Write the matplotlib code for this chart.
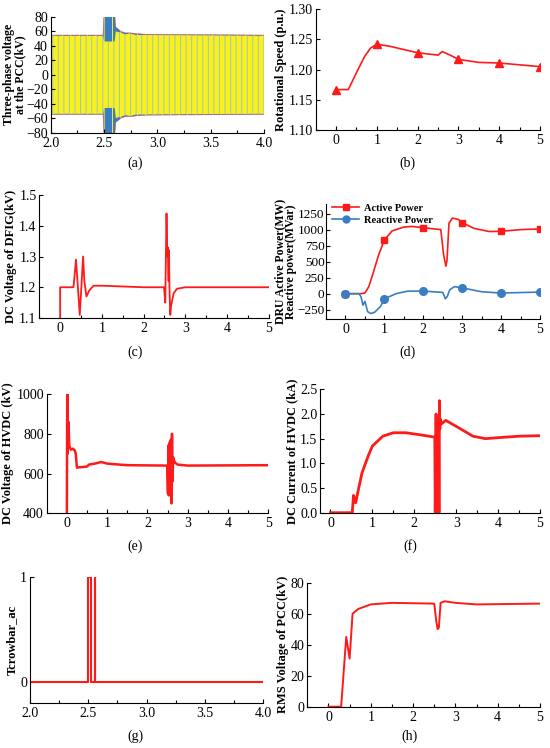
import matplotlib
matplotlib.use('Agg')
import matplotlib.pyplot as plt
from matplotlib.ticker import AutoMinorLocator

plt.rcParams['font.family'] = ['Liberation Serif', 'DejaVu Serif']
plt.rcParams['font.size'] = 10
plt.rcParams['hatch.linewidth'] = 0.7

RED = '#FF1A1A'
BLUE = '#3A7DC2'
YELLOW = '#F7F21C'

# ── (a) three-phase PCC voltage: envelope ────────────────────────────
a_t = [2.0, 2.49, 2.50, 2.60, 2.61, 2.66, 2.70, 2.75, 2.80, 2.90, 4.0]
a_blue_up = [55, 55, 85, 85, 66, 60, 58, 58, 57, 56, 55]
a_yel_up = [54, 54, 46, 46, 60, 58, 56, 57, 55, 55, 54]

# ── (b) rotational speed ──────────────────────────────────────────────
b_t = [0, 0.3, 0.5, 0.7, 0.85, 1.0, 1.3, 2.0, 2.5, 2.6, 2.8, 3.0, 3.5, 4.0, 5.0]
b_w = [1.167, 1.167, 1.195, 1.222, 1.236, 1.242, 1.239, 1.228, 1.224, 1.230,
       1.224, 1.217, 1.212, 1.211, 1.205]
b_mark_t = [0, 1, 2, 3, 4, 5]
b_mark_w = [1.167, 1.242, 1.228, 1.217, 1.211, 1.205]

# ── (c) DC voltage of DFIG ────────────────────────────────────────────
c_t = [0, 0, 0.32, 0.38, 0.47, 0.55, 0.58, 0.63, 0.7, 0.8, 1.0, 2.0, 2.49,
       2.52, 2.55, 2.57, 2.58, 2.60, 2.61, 2.62, 2.64, 2.66, 2.72, 2.8, 3.0, 5.0]
c_v = [1.1, 1.2, 1.2, 1.29, 1.11, 1.30, 1.22, 1.17, 1.19, 1.205, 1.205, 1.20,
       1.20, 1.15, 1.44, 1.30, 1.33, 1.22, 1.32, 1.20, 1.11, 1.14, 1.18,
       1.195, 1.20, 1.20]

# ── (d) DRU active / reactive power ───────────────────────────────────
d_t = [0, 0.4, 0.5, 0.6, 0.7, 0.85, 1.0, 1.2, 1.5, 1.7, 2.0, 2.45, 2.52,
       2.58, 2.61, 2.66, 2.75, 2.9, 3.0, 3.3, 3.7, 4.0, 4.5, 5.0]
d_p = [0, 0, 10, 110, 300, 600, 840, 980, 1040, 1050, 1030, 1000, 620,
       430, 520, 1100, 1180, 1160, 1110, 1020, 970, 975, 1000, 1010]
d_q_t = [0, 0.35, 0.4, 0.45, 0.5, 0.57, 0.65, 0.75, 0.9, 1.0, 1.3, 1.6, 2.0,
         2.5, 2.57, 2.62, 2.68, 2.8, 3.0, 3.5, 4.0, 5.0]
d_q = [0, 0, -50, -180, -120, -280, -310, -290, -200, -80, 0, 40, 40,
       20, -80, -40, 60, 110, 90, 30, 10, 25]
d_mark_t = [0, 1, 2, 3, 4, 5]
d_mark_p = [0, 840, 1030, 1110, 975, 1010]
d_mark_q = [0, -80, 40, 90, 10, 25]

# ── (e) DC voltage of HVDC ────────────────────────────────────────────
e_t = [0, 0.01, 0.02, 0.04, 0.06, 0.1, 0.15, 0.2, 0.22, 0.25, 0.5, 0.55, 0.7,
       0.85, 1.0, 1.5, 2.49, 2.51, 2.52, 2.53, 2.54, 2.55, 2.56, 2.57, 2.58,
       2.59, 2.60, 2.61, 2.62, 2.64, 2.68, 2.75, 3.0, 5.0]
e_v = [400, 1000, 700, 860, 740, 720, 725, 715, 700, 630, 635, 645, 650,
       658, 650, 642, 640, 500, 740, 490, 750, 500, 760, 520, 770, 460,
       450, 800, 560, 680, 655, 645, 640, 642]

# ── (f) DC current of HVDC ────────────────────────────────────────────
f_t = [0, 0.52, 0.55, 0.6, 0.65, 0.75, 0.9, 1.0, 1.25, 1.5, 1.8, 2.2, 2.49,
       2.50, 2.52, 2.53, 2.55, 2.56, 2.58, 2.59, 2.60, 2.61, 2.62, 2.65, 2.75,
       3.0, 3.4, 3.7, 4.0, 4.5, 5.0]
f_i = [0, 0, 0.35, 0.2, 0.4, 0.8, 1.15, 1.35, 1.55, 1.62, 1.62, 1.57, 1.53,
       0, 2.0, 0, 1.9, 0, 1.8, 0, 2.27, 1.7, 1.9, 1.8, 1.87, 1.75, 1.55,
       1.5, 1.52, 1.55, 1.56]

# ── (g) crowbar signal ────────────────────────────────────────────────
g_t = [2.0, 2.5, 2.5, 2.52, 2.52, 2.553, 2.553, 2.558, 2.558, 4.0]
g_s = [0, 0, 1, 1, 0, 0, 1, 1, 0, 0]

# ── (h) RMS voltage of PCC ────────────────────────────────────────────
h_t = [0, 0.3, 0.42, 0.5, 0.57, 0.7, 1.0, 1.5, 2.5, 2.55, 2.58, 2.61, 2.65,
       2.75, 3.0, 3.5, 5.0]
h_v = [0, 0, 45, 31, 60, 63, 66, 67, 66.5, 55, 50, 51, 67, 68, 67, 66, 66.5]

W, H = 550, 748
fig = plt.figure(figsize=(W / 100, H / 100), dpi=100)
T_TICKS = [0, 1, 2, 3, 4, 5]
ZOOM_TICKS = [2.0, 2.5, 3.0, 3.5, 4.0]


def axes_px(l, t, r, b):
    return fig.add_axes([l / W, 1 - b / H, (r - l) / W, (b - t) / H])


def style(ax):
    ax.spines['top'].set_visible(False)
    ax.spines['right'].set_visible(False)
    ax.tick_params(direction='in', length=3, width=0.8, labelsize=10, pad=2)
    ax.tick_params(axis='x', pad=3)
    ax.tick_params(which='minor', direction='in', length=2, width=0.8)
    ax.xaxis.set_minor_locator(AutoMinorLocator(2))


def caption(x, y, s):
    fig.text(x / W, 1 - y / H, s, ha='center', va='center', fontsize=10)


ylab = dict(fontsize=9, fontweight='bold', labelpad=1.5)
ylab2 = dict(fontsize=8.5, fontweight='bold', labelpad=0, linespacing=0.95)

# (a)
ax = axes_px(50.7, 17, 264, 132.5)
a_blue_lo = [-v for v in a_blue_up]
a_yel_lo = [-v for v in a_yel_up]
ax.fill_between(a_t, a_blue_lo, a_blue_up, facecolor=BLUE, edgecolor=YELLOW,
                hatch='||', lw=0)
ax.plot(a_t, a_blue_up, color=RED, lw=0.4, alpha=0.7)
ax.plot(a_t, a_blue_lo, color=RED, lw=0.4, alpha=0.7)
ax.fill_between(a_t, a_yel_lo, a_yel_up, facecolor=YELLOW, edgecolor='#A9C0C4',
                hatch='|||', lw=0)
ax.set_xlim(2.0, 4.0)
ax.set_ylim(-80, 80)
ax.set_xticks(ZOOM_TICKS)
ax.set_yticks(range(-80, 81, 20))
ax.set_ylabel('Three-phase voltage\nat the PCC(kV)', **ylab2)
style(ax)
caption(135, 163, '(a)')

# (b)
ax = axes_px(315.7, 9.3, 540, 130)
ax.plot(b_t, b_w, color=RED, lw=1.2)
ax.plot(b_mark_t, b_mark_w, ls='none', marker='^', ms=5.5, color=RED)
ax.set_xlim(-0.5, 5)
ax.set_ylim(1.10, 1.30)
ax.set_xticks(T_TICKS)
ax.set_yticks([1.10, 1.15, 1.20, 1.25, 1.30])
ax.set_yticklabels(['1.10', '1.15', '1.20', '1.25', '1.30'])
ax.set_ylabel('Rotational Speed (p.u.)', **ylab)
style(ax)
caption(407, 163, '(b)')

# (c)
ax = axes_px(39.3, 195, 268.7, 318)
ax.plot(c_t, c_v, color=RED, lw=1.3)
ax.set_xlim(-0.5, 5)
ax.set_ylim(1.1, 1.5)
ax.set_xticks(T_TICKS)
ax.set_yticks([1.1, 1.2, 1.3, 1.4, 1.5])
ax.set_ylabel('DC Voltage of DFIG(kV)', **ylab)
style(ax)
caption(135, 352, '(c)')

# (d)
ax = axes_px(326, 204, 540, 319.3)
ax.plot(d_t, d_p, color=RED, lw=1.2)
ax.plot(d_q_t, d_q, color=BLUE, lw=1.2)
ax.plot(d_mark_t, d_mark_p, ls='none', marker='s', ms=5, color=RED)
ax.plot(d_mark_t, d_mark_q, ls='none', marker='o', ms=5.5, color=BLUE)
ax.plot([], [], color=RED, lw=1.2, marker='s', ms=4.5, label='Active Power')
ax.plot([], [], color=BLUE, lw=1.2, marker='o', ms=5, label='Reactive Power')
ax.legend(loc='upper left', bbox_to_anchor=(0.0, 1.06), frameon=False,
          prop={'weight': 'bold', 'size': 7.5}, handlelength=2.6,
          labelspacing=0.3, borderaxespad=0.2, handletextpad=0.4)
ax.set_xlim(-0.5, 5)
ax.set_ylim(-400, 1400)
ax.set_xticks(T_TICKS)
ax.set_yticks([-250, 0, 250, 500, 750, 1000, 1250])
ax.tick_params(axis='y', labelsize=9.5, pad=1)
ax.set_ylabel('DRU Active Power(MW)\nReactive power(MVar)', **ylab2)
style(ax)
ax.tick_params(axis='y', labelsize=9.5, pad=1)
caption(407, 352, '(d)')

# (e)
ax = axes_px(46.7, 394, 268.3, 513.3)
ax.plot(e_t, e_v, color=RED, lw=1.8)
ax.set_xlim(-0.5, 5)
ax.set_ylim(400, 1000)
ax.set_xticks(T_TICKS)
ax.set_yticks([400, 600, 800, 1000])
ax.set_ylabel('DC Voltage of HVDC (kV)', **ylab)
style(ax)
caption(135, 546, '(e)')

# (f)
ax = axes_px(320, 389.3, 540, 512.7)
ax.plot(f_t, f_i, color=RED, lw=2.0)
ax.set_xlim(-0.25, 5)
ax.set_ylim(0, 2.5)
ax.set_xticks(T_TICKS)
ax.set_yticks([0.0, 0.5, 1.0, 1.5, 2.0, 2.5])
ax.set_ylabel('DC Current of HVDC (kA)', **ylab)
style(ax)
caption(410, 546, '(f)')

# (g)
ax = axes_px(30, 577, 263.3, 703.3)
ax.plot(g_t, g_s, color=RED, lw=1.5)
ax.set_xlim(2.0, 4.0)
ax.set_ylim(-0.2, 1.0)
ax.set_xticks(ZOOM_TICKS)
ax.set_yticks([0, 1])
ax.set_ylabel('Tcrowbar_ac', **ylab)
style(ax)
caption(135, 736, '(g)')

# (h)
ax = axes_px(307.3, 582.7, 540, 706.7)
ax.plot(h_t, h_v, color=RED, lw=1.4)
ax.set_xlim(-0.5, 5)
ax.set_ylim(0, 80)
ax.set_xticks(T_TICKS)
ax.set_yticks(range(0, 81, 20))
ax.set_ylabel('RMS Voltage of PCC(kV)', **ylab)
style(ax)
caption(410, 736, '(h)')

fig.savefig('out.png', dpi=100)
